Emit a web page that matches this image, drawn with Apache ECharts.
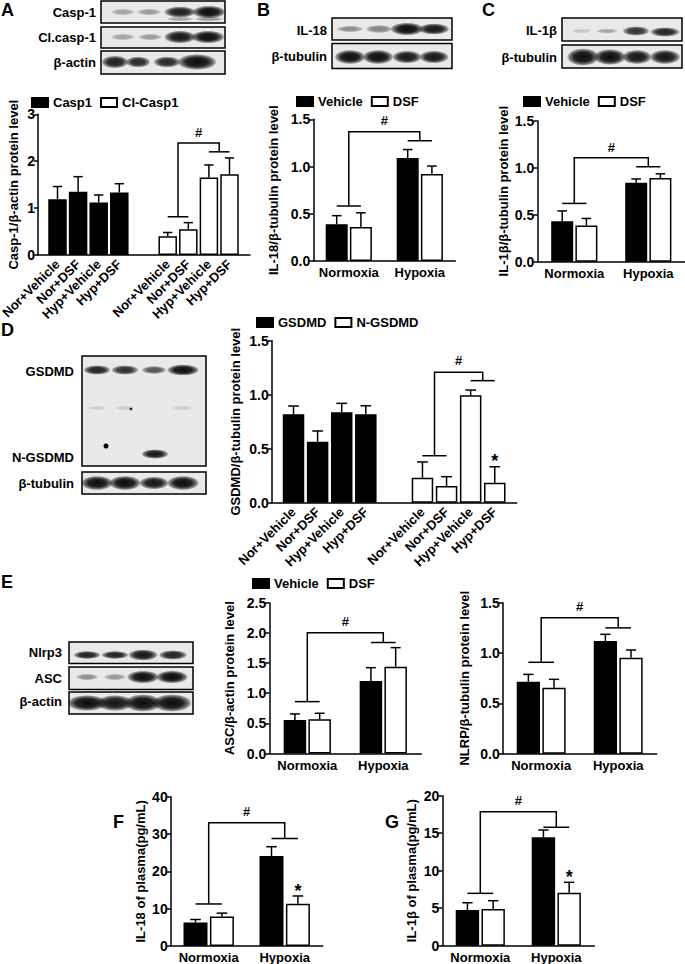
<!DOCTYPE html>
<html><head><meta charset="utf-8">
<script src="https://cdn.jsdelivr.net/npm/echarts@6/dist/echarts.min.js"></script>
<style>html,body{margin:0;padding:0;background:#fff}#c{width:685px;height:964px}</style>
</head><body><div id="c"></div>
<script>
// ---------------- data ----------------
const groupLabels = ['Nor+Vehicle','Nor+DSF','Hyp+Vehicle','Hyp+DSF'];
const conditions = ['Normoxia','Hypoxia'];

// A
const casp1Mean = [1.19, 1.35, 1.12, 1.33];
const casp1Err  = [0.27, 0.32, 0.16, 0.19];
const clCasp1Mean = [0.40, 0.55, 1.65, 1.72];
const clCasp1Err  = [0.08, 0.14, 0.27, 0.35];
const bracketA = [0.815, 2.39, 2.20, 2.62];
// B
const il18Vehicle = [0.39, 1.09];
const il18VehicleErr = [0.09, 0.09];
const il18Dsf = [0.36, 0.92];
const il18DsfErr = [0.15, 0.085];
const bracketB = [0.582, 1.368, 1.273, 1.49];
// C
const il1bVehicle = [0.43, 0.84];
const il1bVehicleErr = [0.11, 0.04];
const il1bDsf = [0.385, 0.89];
const il1bDsfErr = [0.075, 0.045];
const bracketC = [0.62, 1.106, 1.01, 1.22];
// D
const gsdmdMean = [0.818, 0.565, 0.837, 0.818];
const gsdmdErr  = [0.077, 0.099, 0.083, 0.080];
const nGsdmdMean = [0.231, 0.155, 0.994, 0.185];
const nGsdmdErr  = [0.146, 0.086, 0.049, 0.148];
const bracketD = [0.435, 1.207, 1.13, 1.315];
const starD = [3, 0.42];
// E
const ascVehicle = [0.556, 1.20];
const ascVehicleErr = [0.10, 0.223];
const ascDsf = [0.567, 1.44];
const ascDsfErr = [0.10, 0.315];
const bracketASC = [0.86, 2.0, 1.84, 2.19];
const nlrpVehicle = [0.715, 1.119];
const nlrpVehicleErr = [0.073, 0.067];
const nlrpDsf = [0.655, 0.953];
const nlrpDsfErr = [0.084, 0.077];
const bracketNLRP = [0.908, 1.35, 1.25, 1.46];
// F
const fVehicle = [6.3, 24.1];
const fVehicleErr = [0.8, 2.5];
const fDsf = [7.9, 11.3];
const fDsfErr = [0.9, 2.1];
const bracketF = [11.26, 33.0, 28.8, 36.0];
const starF = [1, 15.9];
// G
const gVehicle = [4.76, 14.45];
const gVehicleErr = [0.97, 0.98];
const gDsf = [4.9, 7.07];
const gDsfErr = [1.1, 1.38];
const bracketG = [6.98, 17.87, 15.79, 19.3];
const starG = [1, 9.7];

// ---------------- styling helpers ----------------
const FONT = '"Liberation Sans", Arial, Helvetica, sans-serif';
const GAP = 1.35;
const pos = [0,1,2,3].concat([0,1,2,3].map(i => 4 + GAP + i));
const ls = {stroke:'#000', lineWidth:1.5, fill:'none'};
const blackStyle = {color:'#000', borderColor:'#000', borderWidth:1.5};
const whiteStyle = {color:'#fff', borderColor:'#000', borderWidth:1.5};
const txt = (size) => ({color:'#000', fontFamily:FONT, fontWeight:'bold', fontSize:size});

function yAx(gi, max, interval, name, nameGap, dec) {
  return {type:'value', gridIndex:gi, min:0, max:max, interval:interval, name:name, nameLocation:'middle', nameGap:nameGap,
    nameTextStyle:txt(13),
    axisLine:{show:true, onZero:false, lineStyle:{color:'#000', width:1.5}},
    axisTick:{show:true, length:4, lineStyle:{color:'#000', width:1.5}},
    axisLabel:Object.assign(txt(14), {margin:3, formatter:v => v.toFixed(dec)}),
    splitLine:{show:false}};
}
function xCat(gi) {
  return {type:'category', gridIndex:gi, data:conditions,
    axisLine:{show:true, lineStyle:{color:'#000', width:1.5}}, axisTick:{show:false},
    axisLabel:Object.assign(txt(13), {margin:5, interval:0, hideOverlap:false, showMinLabel:true, showMaxLabel:true}), splitLine:{show:false}};
}
function xVal(gi, min, max) {
  return {type:'value', gridIndex:gi, min:min, max:max,
    axisLine:{show:true, onZero:false, lineStyle:{color:'#000', width:1.5}}, axisTick:{show:false}, splitLine:{show:false},
    axisLabel:Object.assign(txt(13), {margin:7, rotate:45, customValues:pos,
      formatter:v => { const i = pos.findIndex(p => Math.abs(p - v) < 0.01); return i < 0 ? '' : groupLabels[i % 4]; }})};
}
function errSeries(gi, data, offPx, cap) {
  return {type:'custom', xAxisIndex:gi, yAxisIndex:gi, silent:true, z:5, data:data,
    renderItem:(p, api) => {
      const x = api.value(0), m = api.value(1), e = api.value(2);
      const a = api.coord([x, m]), b = api.coord([x, m + e]); const cx = a[0] + offPx;
      return {type:'group', children:[
        {type:'line', shape:{x1:cx, y1:a[1], x2:cx, y2:b[1]}, style:ls},
        {type:'line', shape:{x1:cx - cap, y1:b[1], x2:cx + cap, y2:b[1]}, style:ls}]};
    }};
}
function bracketSeries(gi, item, hsFn) {
  return {type:'custom', xAxisIndex:gi, yAxisIndex:gi, silent:true, z:5, data:[item],
    renderItem:(p, api) => {
      const xl = api.value(0), xr = api.value(1), h1 = api.value(2), ht = api.value(3), h2 = api.value(4), hm = api.value(5);
      const hs = hsFn(api, xl);
      const L1 = api.coord([xl, h1]), LT = api.coord([xl, ht]), RT = api.coord([xr, ht]), R2 = api.coord([xr, h2]);
      const my = api.coord([xl, hm])[1];
      return {type:'group', children:[
        {type:'line', shape:{x1:L1[0] - hs, y1:L1[1], x2:L1[0] + hs, y2:L1[1]}, style:ls},
        {type:'polyline', shape:{points:[L1, LT, RT, R2]}, style:ls},
        {type:'line', shape:{x1:R2[0] - hs, y1:R2[1], x2:R2[0] + hs, y2:R2[1]}, style:ls},
        {type:'text', style:{text:'#', x:(LT[0] + RT[0]) / 2, y:my, align:'center', verticalAlign:'middle', textAlign:'center', textVerticalAlign:'middle', font:'bold 13px ' + FONT, fill:'#000'}}
      ]};
    }};
}
function starSeries(gi, data, offPx) {
  return {type:'custom', xAxisIndex:gi, yAxisIndex:gi, silent:true, z:5, data:[data],
    renderItem:(p, api) => {
      const c = api.coord([api.value(0), api.value(1)]);
      return {type:'text', style:{text:'*', x:c[0] + offPx, y:c[1] + 4, align:'center', verticalAlign:'middle', textAlign:'center', textVerticalAlign:'middle', font:'bold 18px ' + FONT, fill:'#000'}};
    }};
}
function catSeries(gi, vM, vE, dM, dE, w, br, star) {
  const off = w * 1.1 / 2, cap = w * 0.22;
  const s = [
    {type:'bar', name:'Vehicle', xAxisIndex:gi, yAxisIndex:gi, data:vM, barWidth:w, barGap:'10%', itemStyle:blackStyle, silent:true},
    {type:'bar', name:'DSF', xAxisIndex:gi, yAxisIndex:gi, data:dM, barWidth:w, barGap:'10%', itemStyle:whiteStyle, silent:true},
    errSeries(gi, vM.map((m, i) => [i, m, vE[i]]), -off, cap),
    errSeries(gi, dM.map((m, i) => [i, m, dE[i]]), off, cap),
    bracketSeries(gi, [0, 1].concat(br), () => off)
  ];
  if (star) s.push(starSeries(gi, star, off));
  return s;
}
function valSeries(gi, n1, m1, e1, n2, m2, e2, w, br, star) {
  const cap = w * 0.25;
  const xl = (pos[4] + pos[5]) / 2, xr = (pos[6] + pos[7]) / 2;
  const s = [
    {type:'bar', name:n1, xAxisIndex:gi, yAxisIndex:gi, data:m1.map((v, i) => [pos[i], v]), barWidth:w, barGap:'-100%', itemStyle:blackStyle, silent:true},
    {type:'bar', name:n2, xAxisIndex:gi, yAxisIndex:gi, data:m2.map((v, i) => [pos[i + 4], v]), barWidth:w, barGap:'-100%', itemStyle:whiteStyle, silent:true},
    errSeries(gi, m1.map((v, i) => [pos[i], v, e1[i]]), 0, cap),
    errSeries(gi, m2.map((v, i) => [pos[i + 4], v, e2[i]]), 0, cap),
    bracketSeries(gi, [xl, xr].concat(br), (api, x) => api.coord([x + 0.5, 0])[0] - api.coord([x, 0])[0])
  ];
  if (star) s.push(starSeries(gi, [pos[star[0] + 4], star[1]], 0));
  return s;
}

// ---------------- blots (graphic) ----------------
function bandFill(a) {
  return {type:'radial', x:0.5, y:0.5, r:0.5, colorStops:[
    {offset:0, color:'rgba(5,5,5,' + a + ')'},
    {offset:0.55, color:'rgba(5,5,5,' + (a * 0.9).toFixed(3) + ')'},
    {offset:0.85, color:'rgba(5,5,5,' + (a * 0.45).toFixed(3) + ')'},
    {offset:1, color:'rgba(5,5,5,0)'}]};
}
function blot(x, y, w, h, bands) {
  const els = [{type:'rect', shape:{x:x, y:y, width:w, height:h}, style:{fill:'#e9e9e9', stroke:'none'}}];
  bands.forEach(b => {
    const bw = b[2] * 1.25, bh = b[3] * 1.6;
    els.push({type:'ellipse', shape:{cx:b[0], cy:b[1], rx:bw / 2, ry:bh / 2}, style:{fill:bandFill(b[4])}});
  });
  els.push({type:'rect', shape:{x:x, y:y, width:w, height:h}, style:{fill:'none', stroke:'#000', lineWidth:1.5}});
  return els;
}
function lbl(text, xr, cy) {
  return {type:'text', style:{text:text, x:xr, y:cy, align:'right', verticalAlign:'middle', textAlign:'right', textVerticalAlign:'middle', font:'bold 13px ' + FONT, fill:'#000'}};
}
function letter(text, x, y) {
  return {type:'text', style:{text:text, x:x, y:y, align:'left', verticalAlign:'top', textAlign:'left', textVerticalAlign:'top', font:'bold 18px ' + FONT, fill:'#000'}};
}
let graphics = [];
graphics = graphics.concat(
  blot(101, 1, 124, 22, [[123,12,20,4,0.3],[149,12,20,4,0.35],[180,12,26,7,0.9],[209,12,27,8,0.97],[180,19,22,3,0.3],[209,19,24,3,0.35]]),
  blot(101, 27, 124, 21, [[123,37,20,4,0.3],[150,37,20,4,0.35],[180,37,26,8,0.92],[208,37,27,8,0.97]]),
  blot(101, 51, 124, 23, [[115,62,22,8,0.9],[138,62,20,7,0.85],[167,62,22,7,0.85],[197,62,32,10,0.97]]),
  blot(332, 18, 120, 22, [[350,29,22,4,0.4],[379,29,22,5,0.45],[407,29,27,8,0.97],[434,29,25,7,0.93]]),
  blot(332, 43.5, 120, 25, [[350,57,25,9,0.97],[378,57,25,9,0.97],[407,57,24,8,0.93],[434,57,24,8,0.93]]),
  blot(562, 18, 120, 23, [[582,31,16,3,0.15],[607,31,18,3,0.3],[636,31,22,6,0.8],[665,32,24,6,0.88]]),
  blot(562, 45, 120, 23, [[583,57,26,11,0.97],[610,57,26,10,0.97],[637,57,24,9,0.93],[665,57,25,9,0.93]]),
  blot(82, 356, 124, 110, [[97,370,22,6,0.88],[125,370,22,6,0.82],[154,370,20,5,0.65],[183,370,26,7,0.97],[97,408,16,3,0.12],[125,408,16,3,0.14],[183,408,18,3,0.12],[155,454,22,6,0.93]]),
  [{type:'circle', shape:{cx:106, cy:446, r:2.5}, style:{fill:'#000'}}, {type:'circle', shape:{cx:131, cy:409, r:1.3}, style:{fill:'#222'}}],
  blot(82, 472, 124, 22, [[97,483,26,9,0.97],[125,483,26,9,0.97],[154,483,24,8,0.93],[183,483,26,9,0.97]]),
  blot(69, 642, 124, 21.5, [[87,655,22,5,0.88],[115,655,22,5,0.88],[143,655,24,7,0.93],[173,655,23,6,0.88]]),
  blot(69, 667, 124, 22.5, [[87,677,18,4,0.4],[115,677,18,4,0.35],[143,677,26,8,0.97],[172,677,26,8,0.97]]),
  blot(69, 692, 124, 22, [[87,703,32,10,0.97],[115,703,30,10,0.93],[143,703,30,11,0.97],[172,703,32,11,0.97]]),
  [lbl('Casp-1', 96, 12), lbl('Cl.casp-1', 96, 37), lbl('β-actin', 96, 62),
   lbl('IL-18', 327, 30), lbl('β-tubulin', 327, 56),
   lbl('IL-1β', 557, 30), lbl('β-tubulin', 557, 57),
   lbl('GSDMD', 74, 371), lbl('N-GSDMD', 74, 457), lbl('β-tubulin', 74, 483),
   lbl('Nlrp3', 62, 652), lbl('ASC', 62, 678), lbl('β-actin', 62, 701),
   letter('A', 1, 1), letter('B', 257, 1), letter('C', 482, 1), letter('D', 1, 321), letter('E', 1, 573),
   letter('F', 113, 813), letter('G', 385, 813)]
);

// ---------------- option ----------------
const grids = [
  {left:38, top:114.3, width:212, height:140.7},
  {left:313.3, top:119.3, width:142, height:141.7},
  {left:537.3, top:120.7, width:148, height:141},
  {left:271.7, top:340.7, width:245, height:162},
  {left:269.3, top:602.7, width:152, height:150.8},
  {left:502.7, top:602.7, width:154, height:151},
  {left:170.7, top:796.7, width:152, height:149.3},
  {left:442.3, top:795.7, width:152, height:150}
].map(g => Object.assign(g, {outerBoundsMode:'none', containLabel:false}));

const legendBase = {icon:'rect', itemWidth:16, itemHeight:9, itemGap:8, padding:0, selectedMode:false, textStyle:txt(13)};
const legends = [
  Object.assign({left:31, top:96, data:['Casp1','Cl-Casp1']}, legendBase),
  Object.assign({left:296, top:95, data:['Vehicle','DSF']}, legendBase),
  Object.assign({left:523, top:95, data:['Vehicle','DSF']}, legendBase),
  Object.assign({left:256, top:316, data:['GSDMD','N-GSDMD']}, legendBase),
  Object.assign({left:252, top:577, data:['Vehicle','DSF']}, legendBase)
];

const option = {
  backgroundColor:'#fff',
  animation:false,
  grid:grids,
  legend:legends,
  xAxis:[
    xVal(0, -0.947, 9.345), xCat(1), xCat(2), xVal(3, -0.905, 9.26), xCat(4), xCat(5), xCat(6), xCat(7)
  ],
  yAxis:[
    yAx(0, 3, 1, 'Casp-1/β-actin protein level', 18, 0),
    yAx(1, 1.5, 0.5, 'IL-18/β-tubulin protein level', 33, 1),
    yAx(2, 1.5, 0.5, 'IL-1β/β-tubulin protein level', 27, 1),
    yAx(3, 1.5, 0.5, 'GSDMD/β-tubulin protein level', 30, 1),
    yAx(4, 2.5, 0.5, 'ASC/β-actin protein level', 33, 1),
    yAx(5, 1.5, 0.5, 'NLRP/β-tubulin protein level', 32, 1),
    yAx(6, 40, 10, 'IL-18 of plasma(pg/mL)', 24, 0),
    yAx(7, 20, 5, 'IL-1β of plasma(pg/mL)', 24, 0)
  ],
  series:[].concat(
    valSeries(0, 'Casp1', casp1Mean, casp1Err, 'Cl-Casp1', clCasp1Mean, clCasp1Err, 18.5, bracketA, null),
    catSeries(1, il18Vehicle, il18VehicleErr, il18Dsf, il18DsfErr, 22, bracketB, null),
    catSeries(2, il1bVehicle, il1bVehicleErr, il1bDsf, il1bDsfErr, 22, bracketC, null),
    valSeries(3, 'GSDMD', gsdmdMean, gsdmdErr, 'N-GSDMD', nGsdmdMean, nGsdmdErr, 21.5, bracketD, starD),
    catSeries(4, ascVehicle, ascVehicleErr, ascDsf, ascDsfErr, 22.5, bracketASC, null),
    catSeries(5, nlrpVehicle, nlrpVehicleErr, nlrpDsf, nlrpDsfErr, 23.3, bracketNLRP, null),
    catSeries(6, fVehicle, fVehicleErr, fDsf, fDsfErr, 24, bracketF, starF),
    catSeries(7, gVehicle, gVehicleErr, gDsf, gDsfErr, 23.4, bracketG, starG)
  ),
  graphic:{elements:graphics}
};
const chart = echarts.init(document.getElementById('c'), null, {renderer:'svg', width:685, height:964});
chart.setOption(option);
</script>
</body></html>
